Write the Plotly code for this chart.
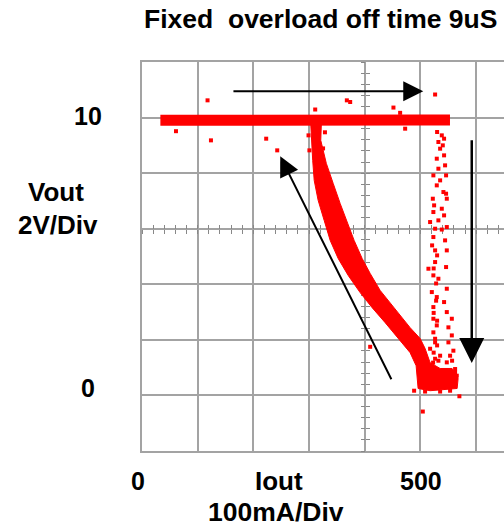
import plotly.graph_objects as go

# ---------------- data (Iout in mA, Vout in V) ----------------
plateau_x = [33, 80, 150, 220, 290, 360, 430, 500, 553]
plateau_y = [9.90, 9.91, 9.90, 9.90, 9.91, 9.90, 9.90, 9.91, 9.91]

# outline of the dense fold-back band (left edge downwards, then right edge upwards)
fold_x = [303.0, 304.0, 306.5, 309.2, 316.3, 327.1, 337.9, 352.2, 370.2, 391.7, 413.2,
          436.6, 459.9, 481.4, 492.2, 495.8, 517.3, 565.8, 567.6, 556.8, 535.3, 517.3,
          508.3, 499.4, 481.4, 463.5, 445.5, 427.6, 409.7, 395.3, 380.9, 368.4, 355.8,
          343.3, 331.0, 321.0, 322.0]
fold_y = [9.76, 9.18, 8.46, 7.74, 7.02, 6.30, 5.58, 4.93, 4.32, 3.70, 3.16,
          2.62, 2.05, 1.54, 1.07, 0.25, 0.17, 0.25, 0.61, 0.97, 0.97, 1.18,
          1.69, 2.05, 2.44, 2.88, 3.31, 3.78, 4.39, 4.93, 5.58, 6.23, 6.91,
          7.63, 8.35, 9.18, 9.76]

# sparse return path near 520-565 mA
return_x = [529.9, 538.3, 542.4, 532.2, 540.1, 535.3, 529.3, 542.4, 544.2, 532.2, 523.2,
            546.0, 535.3, 529.3, 541.2, 546.0, 522.2, 547.3, 524.5, 538.3, 523.2, 542.4,
            517.3, 532.2, 526.3, 538.3, 547.3, 523.2, 544.2, 526.3, 547.3, 514.3, 526.3,
            546.0, 523.2, 532.2, 547.3, 520.4, 529.3, 542.4, 523.2, 547.3, 556.3, 523.2,
            529.3, 550.2, 523.2, 556.3, 526.3, 550.2, 559.1, 517.3, 553.2, 526.3, 562.2,
            547.3, 565.2, 528.1, 523.7, 529.9, 526.3, 529.9, 523.7, 532.2, 522.7, 535.3,
            528.1, 523.7, 529.9, 520.9, 562.2, 556.8, 508.3, 535.3, 553.2]
return_y = [9.48, 9.36, 9.24, 9.12, 9.00, 8.88, 8.52, 8.64, 8.28, 8.16, 7.92,
            7.92, 7.74, 7.56, 7.32, 7.26, 7.08, 7.08, 6.84, 6.72, 6.60, 6.48,
            6.24, 6.30, 6.00, 5.97, 6.06, 5.70, 5.58, 5.22, 5.22, 4.56, 4.80,
            4.62, 4.32, 4.20, 3.84, 3.72, 3.54, 3.36, 3.18, 3.00, 2.76, 2.76,
            2.52, 2.45, 2.27, 2.16, 1.91, 1.91, 1.61, 1.68, 1.43, 1.32, 0.95,
            1.19, 0.71, 3.41, 2.97, 2.69, 2.04, 1.80, 1.54, 1.25, 1.18, 1.43,
            4.03, 4.57, 5.04, 5.40, 0.82, 1.25, 0.14, 0.14, 0.17]

# stray samples
stray_x = [117.7, 61.0, 123.8, 223.0, 242.8, 311.0, 367.8, 373.8, 451.5, 463.5, 526.3,
           472.5, 409.7, 488.6, 569.9, 504.2, 300.6, 299.0, 328.5, 325.1, 313.8]
stray_y = [10.62, 9.51, 9.18, 9.24, 8.82, 10.29, 10.62, 10.56, 10.36, 10.17, 10.83,
           9.60, 1.75, 0.17, -0.03, -0.58, 8.82, 9.36, 9.47, 8.89, 8.10]

# direction arrows: (tail_x, tail_y, head_x, head_y)
arrows = [(161.5, 10.95, 505.0, 10.95),
          (449.1, 0.53, 248.2, 8.61),
          (592.1, 9.24, 592.1, 1.17)]

title_text = "Fixed\u00a0 overload off time 9uS"
y_tick_labels = ["10", "0"]
x_tick_labels = ["0", "500"]
y_title_lines = ["Vout", "2V/Div"]
x_title_lines = ["Iout", "100mA/Div"]

# ---------------- figure ----------------
W, H = 504, 527
ML, MR, MT, MB = 142, 0, 62, 76
PW, PH = W - ML - MR, H - MT - MB
RED = "#ff0000"
GRID = "#a3a3a3"
FONT = "Liberation Sans, Arial, sans-serif"

fig = go.Figure()
fig.add_trace(go.Scatter(x=plateau_x, y=plateau_y, mode="lines",
                         line=dict(color=RED, width=11), hoverinfo="skip", showlegend=False))
fig.add_trace(go.Scatter(x=fold_x, y=fold_y, mode="lines", fill="toself", fillcolor=RED,
                         line=dict(color=RED, width=1), hoverinfo="skip", showlegend=False))
fig.add_trace(go.Scatter(x=return_x, y=return_y, mode="markers",
                         marker=dict(color=RED, size=4, symbol="square", line=dict(width=0)),
                         hoverinfo="skip", showlegend=False))
fig.add_trace(go.Scatter(x=stray_x, y=stray_y, mode="markers",
                         marker=dict(color=RED, size=4, symbol="square", line=dict(width=0)),
                         hoverinfo="skip", showlegend=False))
# dummy traces so that the centre tick axes are rendered
for xa, ya in [("x", "y2"), ("x", "y3"), ("x2", "y"), ("x3", "y")]:
    fig.add_trace(go.Scatter(x=[None], y=[None], xaxis=xa, yaxis=ya, mode="markers",
                             showlegend=False, hoverinfo="skip"))

XR = [0, 650]
YR = [-2, 12]
common_tick = dict(ticklen=4, tickwidth=1.2, tickcolor="#888888", showgrid=False,
                   zeroline=False, showline=False, showticklabels=False,
                   layer="below traces", fixedrange=True, automargin=False)
fig.update_layout(
    width=W, height=H, margin=dict(l=ML, r=MR, t=MT, b=MB, pad=0, autoexpand=False),
    paper_bgcolor="white", plot_bgcolor="white", showlegend=False,
    xaxis=dict(range=XR, dtick=100, tick0=0, showgrid=True, gridcolor=GRID, gridwidth=1.5,
               zeroline=False, showline=True, linecolor=GRID, linewidth=1.5, mirror=True,
               ticks="", showticklabels=False, layer="below traces", fixedrange=True,
               automargin=False),
    yaxis=dict(range=YR, dtick=2, tick0=0, showgrid=True, gridcolor=GRID, gridwidth=1.5,
               zeroline=False, showline=True, linecolor=GRID, linewidth=1.5,
               ticks="", showticklabels=False, layer="below traces", fixedrange=True,
               automargin=False),
    yaxis2=dict(range=YR, overlaying="y", anchor="free", position=400 / 650, side="left",
                dtick=0.4, tick0=0, ticks="outside", **common_tick),
    yaxis3=dict(range=YR, overlaying="y", anchor="free", position=400 / 650, side="left",
                dtick=0.4, tick0=0, ticks="inside", **common_tick),
    xaxis2=dict(range=XR, overlaying="x", anchor="free", position=8 / 14, side="bottom",
                dtick=20, tick0=0, ticks="outside", **common_tick),
    xaxis3=dict(range=XR, overlaying="x", anchor="free", position=8 / 14, side="bottom",
                dtick=20, tick0=0, ticks="inside", **common_tick),
)


def px2paper(px, py):
    return (px - ML) / PW, (H - MB - py) / PH


def label(text, px, py, size, xanchor="center"):
    x, y = px2paper(px, py)
    fig.add_annotation(text=f"<b>{text}</b>", x=x, y=y, xref="paper", yref="paper",
                       xanchor=xanchor, yanchor="middle", showarrow=False, borderpad=0,
                       font=dict(family=FONT, size=size, color="black"))


label(title_text, 320, 19, 26.5)
label(y_tick_labels[0], 87.5, 116, 25)
label(y_tick_labels[1], 87.5, 388, 25)
label(y_title_lines[0], 56, 192, 26)
label(y_title_lines[1], 58, 225, 26)
label(x_tick_labels[0], 137.5, 481, 25)
label(x_tick_labels[1], 420.5, 481, 25)
label(x_title_lines[0], 279, 481, 26)
label(x_title_lines[1], 276, 512, 26.5)

for (tx, ty, hx, hy), w in zip(arrows, [2, 2, 2.5]):
    fig.add_annotation(x=hx, y=hy, ax=tx, ay=ty, xref="x", yref="y", axref="x", ayref="y",
                       text="", showarrow=True, arrowhead=2, arrowsize=2, arrowwidth=w,
                       arrowcolor="black", standoff=0)

fig.write_html("out.html", config={"displayModeBar": False},
               post_script="document.body.style.margin='0';document.body.style.overflow='hidden';")
